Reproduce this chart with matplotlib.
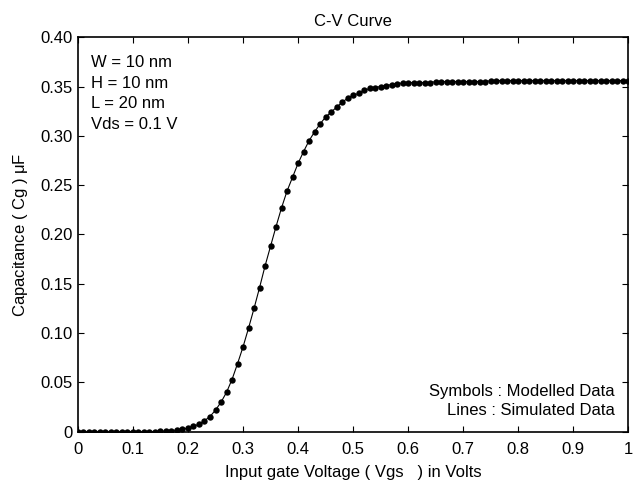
import numpy as np
import matplotlib
matplotlib.use('Agg')
from matplotlib import pyplot as plt

plt.rcParams['font.family'] = ['Liberation Sans', 'DejaVu Sans']
plt.rcParams['mathtext.fontset'] = 'custom'
plt.rcParams['mathtext.rm'] = 'Liberation Sans'
plt.rcParams['mathtext.it'] = 'Liberation Sans'

# gate voltage sweep, 0 to 1 V in 10 mV steps
vgs = np.round(np.arange(0, 101) * 0.01, 2)

# gate capacitance (uF)
cg = [0.0] * 13 + [
    0.0002, 0.0003, 0.0005, 0.0008, 0.0012, 0.0018, 0.0027,
    0.0038, 0.0054, 0.0078, 0.0112, 0.0155, 0.022, 0.030, 0.040, 0.053, 0.069,
    0.086, 0.105, 0.125, 0.146, 0.168, 0.188, 0.208, 0.227, 0.244, 0.258,
    0.272, 0.284, 0.295, 0.304, 0.312, 0.319, 0.324, 0.329, 0.334, 0.338,
    0.341, 0.343, 0.346, 0.348, 0.349, 0.350, 0.351, 0.352, 0.353, 0.3535,
] + [0.354] * 5 + [0.355] * 10 + [0.356] * 26

xticks = [0, 0.1, 0.2, 0.3, 0.4, 0.5, 0.6, 0.7, 0.8, 0.9, 1]
xticklabels = ['0', '0.1', '0.2', '0.3', '0.4', '0.5', '0.6', '0.7', '0.8', '0.9', '1']
yticks = [0, 0.05, 0.1, 0.15, 0.2, 0.25, 0.3, 0.35, 0.4]
yticklabels = ['0', '0.05', '0.10', '0.15', '0.20', '0.25', '0.30', '0.35', '0.40']

fs = 12

fig = plt.figure(figsize=(6.39, 4.83), dpi=100)
ax = fig.add_axes([0.122, 0.106, 0.861, 0.817])

# simulated data as line, modelled data as symbols
ax.plot(vgs, cg, '-', color='black', linewidth=0.8)
ax.plot(vgs, cg, 'o', color='black', markersize=4.6, markeredgewidth=0)

ax.set_xlim(0, 1)
ax.set_ylim(0, 0.4)
ax.set_xticks(xticks)
ax.set_xticklabels(xticklabels)
ax.set_yticks(yticks)
ax.set_yticklabels(yticklabels)
ax.tick_params(direction='in', top=True, right=True, length=4, width=0.8,
               labelsize=fs)
ax.tick_params(axis='x', pad=7)
ax.tick_params(axis='y', pad=4)
for s in ax.spines.values():
    s.set_linewidth(1.2)

ax.set_title('C-V Curve', fontsize=fs, pad=8)
ax.set_xlabel('Input gate Voltage ( Vgs   ) in Volts', fontsize=fs, labelpad=6)
ax.set_ylabel(r'Capacitance ( Cg ) $\mu$F', fontsize=fs, labelpad=7)

info = ['W = 10 nm', 'H = 10 nm', 'L = 20 nm', 'Vds = 0.1 V']
for i, t in enumerate(info):
    ax.text(0.024, 0.935 - i * 0.052, t, transform=ax.transAxes, fontsize=fs,
            va='center', ha='left')

ax.text(0.976, 0.101, 'Symbols : Modelled Data', transform=ax.transAxes,
        fontsize=fs, va='center', ha='right')
ax.text(0.976, 0.053, 'Lines : Simulated Data', transform=ax.transAxes,
        fontsize=fs, va='center', ha='right')

plt.savefig('out.png', dpi=100)
